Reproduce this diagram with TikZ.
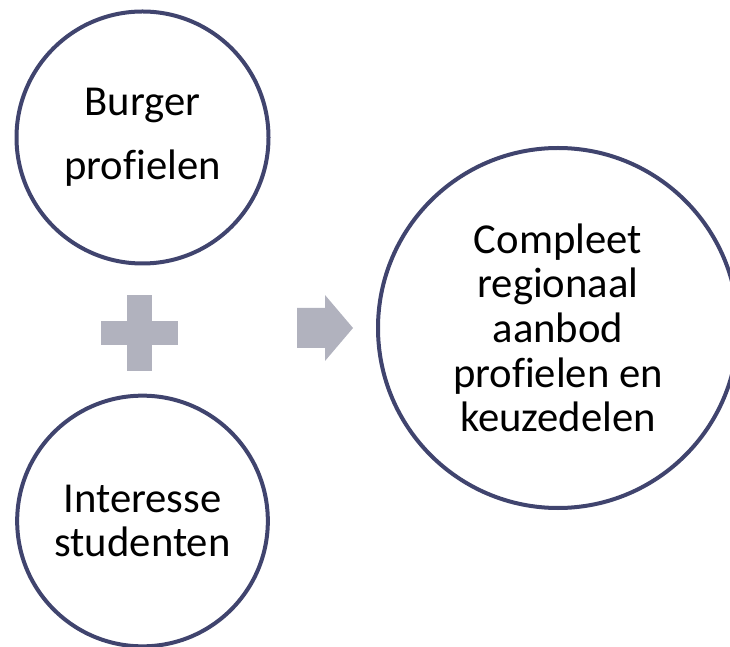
\documentclass[tikz,border=0pt]{standalone}
\usepackage{fontspec}
\setmainfont{Carlito}[Ligatures=NoCommon]
\usepackage{tikz}
\definecolor{bubbleline}{RGB}{64,68,110}
\definecolor{signgray}{RGB}{177,178,190}
\tikzstyle{Bubble}=[circle, draw=bubbleline, line width=3pt, inner sep=0pt, align=center, font=\fontsize{32}{33.5}\selectfont]

\begin{document}
\begin{tikzpicture}[x=0.75pt, y=0.75pt]
    \useasboundingbox (0,0) rectangle (730,646);
    \clip (0,0) rectangle (730,646);
    \path
    (142.5,508.5) node[Bubble, minimum size=189pt, font=\fontsize{32}{48}\selectfont] (burger) {Burger\\profielen}
    (142.5,125) node[Bubble, minimum size=188pt] (interesse) {Interesse\\studenten}
    (558,318) node[Bubble, minimum size=270pt] (aanbod) {Compleet\\regionaal\\aanbod\\profielen en\\keuzedelen};

    % plus sign
    \fill[signgray] (127,275) rectangle (152,351);
    \fill[signgray] (101,301) rectangle (178,325);
    % arrow
    \fill[signgray] (297,338) -- (325,338) -- (325,351) -- (353,318) -- (325,285) -- (325,298) -- (297,298) -- cycle;
\end{tikzpicture}
\end{document}
